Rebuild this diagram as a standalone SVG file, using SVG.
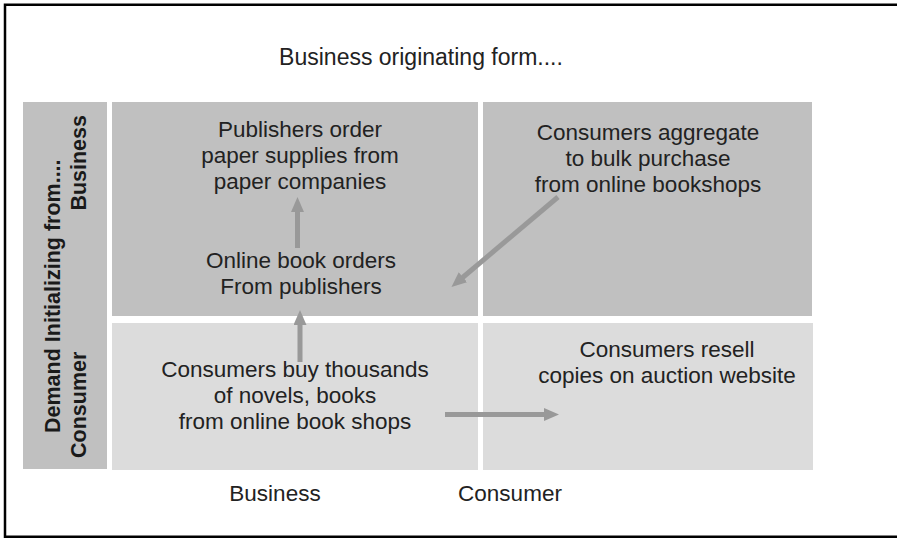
<svg xmlns="http://www.w3.org/2000/svg" width="897" height="539" viewBox="0 0 897 539">
<style>
  .t { font-family: "Liberation Sans", Arial, sans-serif; font-size: 22.5px; fill: #222; text-anchor: middle; }
  .b { font-family: "Liberation Sans", Arial, sans-serif; font-size: 21.5px; font-weight: bold; fill: #1a1a1a; }
  .dark { fill: #c0c0c0; }
  .light { fill: #dcdcdc; }
  .arr { stroke: #999; stroke-width: 5; fill: none; marker-end: url(#ah); }
</style>
<defs>
  <marker id="ah" markerUnits="userSpaceOnUse" markerWidth="15" markerHeight="13" refX="5" refY="6.5" orient="auto">
    <path d="M0,0 L15,6.5 L0,13 z" fill="#999"/>
  </marker>
</defs>
<rect x="0" y="0" width="897" height="539" fill="#fff"/>
<rect x="5" y="4.75" width="900" height="532" fill="none" stroke="#000" stroke-width="2.5"/>
<text class="t" x="421" y="65" style="font-size:23px">Business originating form....</text>

<g id="axis-left">
  <rect class="dark" x="23" y="102" width="84" height="367"/>
  <text class="b" transform="translate(60,433) rotate(-90)">Demand Initializing from....</text>
  <text class="b" transform="translate(86,458) rotate(-90)">Consumer</text>
  <text class="b" transform="translate(86,115) rotate(-90)" text-anchor="end">Business</text>
</g>

<g id="cell-bb">
  <rect class="dark" x="112" y="102" width="366" height="214"/>
  <text class="t" x="300" y="137">Publishers order</text>
  <text class="t" x="300" y="163">paper supplies from</text>
  <text class="t" x="300" y="189">paper companies</text>
  <text class="t" x="301" y="268">Online book orders</text>
  <text class="t" x="301" y="294">From publishers</text>
</g>

<g id="cell-bc">
  <rect class="dark" x="483" y="102" width="329" height="214"/>
  <text class="t" x="648" y="140">Consumers aggregate</text>
  <text class="t" x="648" y="166">to bulk purchase</text>
  <text class="t" x="648" y="192">from online bookshops</text>
</g>

<g id="cell-cb">
  <rect class="light" x="112" y="323" width="366" height="147"/>
  <text class="t" x="295" y="377">Consumers buy thousands</text>
  <text class="t" x="295" y="403">of novels, books</text>
  <text class="t" x="295" y="429">from online book shops</text>
</g>

<g id="cell-cc">
  <rect class="light" x="483" y="323" width="330" height="147"/>
  <text class="t" x="667" y="357">Consumers resell</text>
  <text class="t" x="667" y="383">copies on auction website</text>
</g>

<g id="axis-bottom">
  <text class="t" x="275" y="501">Business</text>
  <text class="t" x="510" y="501">Consumer</text>
</g>

<g id="connectors">
  <line class="arr" x1="297.5" y1="248" x2="297.5" y2="207"/>
  <line class="arr" x1="300" y1="362" x2="300" y2="320"/>
  <line class="arr" x1="558" y1="197" x2="459.1" y2="280.5"/>
  <line class="arr" x1="445" y1="414.5" x2="549" y2="414.5"/>
</g>
</svg>
